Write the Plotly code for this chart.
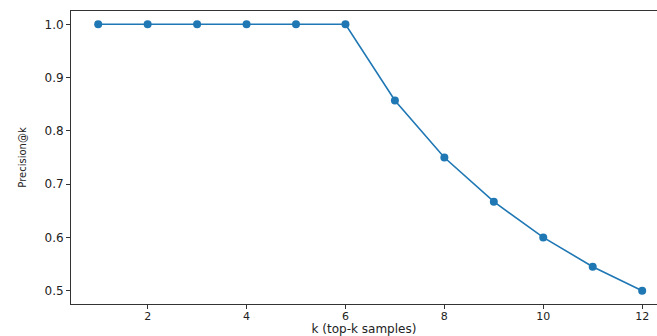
import plotly.graph_objects as go

k_values = [1, 2, 3, 4, 5, 6, 7, 8, 9, 10, 11, 12]
precision = [1.0, 1.0, 1.0, 1.0, 1.0, 1.0, 0.857, 0.75, 0.667, 0.6, 0.545, 0.5]
x_ticks = [2, 4, 6, 8, 10, 12]
y_ticks = [0.5, 0.6, 0.7, 0.8, 0.9, 1.0]

fig = go.Figure()
fig.add_trace(go.Scatter(
    x=k_values, y=precision, mode="lines+markers",
    line=dict(color="#1f77b4", width=1.6),
    marker=dict(color="#1f77b4", size=8),
    showlegend=False,
))

tick_font = dict(family="DejaVu Sans", size=12, color="#222")
fig.update_layout(
    width=657, height=336,
    margin=dict(l=71, r=0, t=11, b=32, autoexpand=False),
    paper_bgcolor="white", plot_bgcolor="white",
    font=tick_font,
    xaxis=dict(
        range=[0.45, 12.30], tickvals=x_ticks, ticks="outside", ticklen=4,
        tickcolor="#333", showline=True, linecolor="#333", linewidth=1,
        mirror=True, showgrid=False, zeroline=False,
        tickfont=dict(family="DejaVu Sans", size=11, color="#222"),
        ticklabelstandoff=-2,
        title=dict(text="k (top-k samples)", standoff=0,
                   font=dict(family="DejaVu Sans", size=12, color="#222")),
    ),
    yaxis=dict(
        range=[0.475, 1.025], tickvals=y_ticks, tickformat=".1f",
        ticks="outside", ticklen=4, tickcolor="#333", showline=True,
        linecolor="#333", linewidth=1, showgrid=False, zeroline=False,
        tickfont=tick_font,
        title=dict(text="Precision@k", standoff=16,
                   font=dict(family="DejaVu Sans", size=10, color="#222")),
    ),
)

fig.write_html("out.html", config={"displayModeBar": False},
               post_script="document.body.style.margin='0';")
